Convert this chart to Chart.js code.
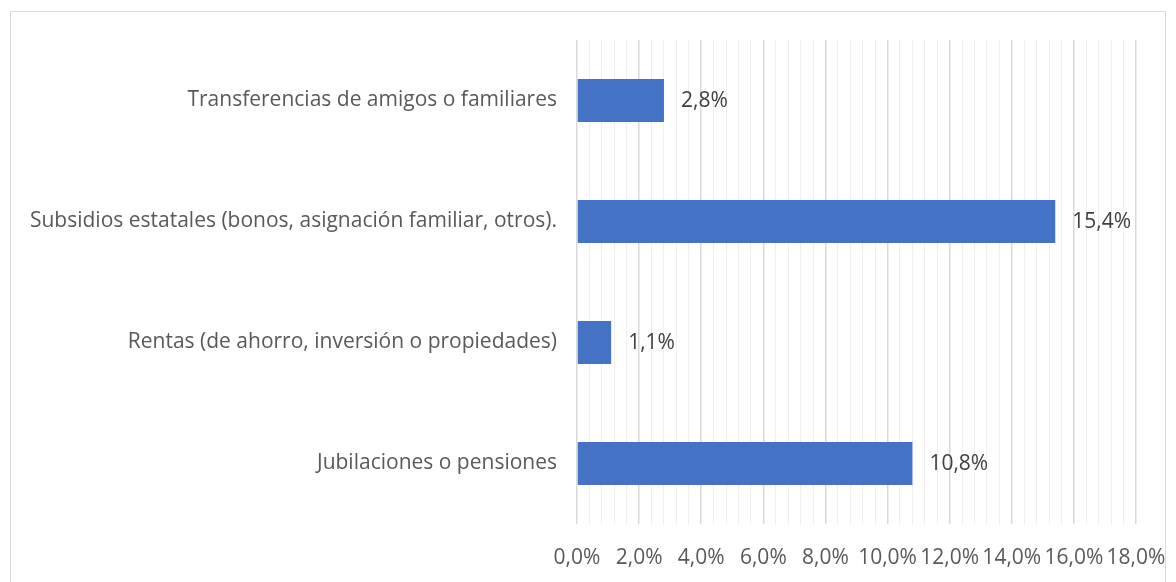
<!DOCTYPE html>
<html>
<head>
<meta charset="utf-8">
<script src="https://cdn.jsdelivr.net/npm/chart.js@4/dist/chart.umd.min.js"></script>
<style>
  html, body { margin: 0; padding: 0; background: #fff; }
  #wrap { position: relative; width: 1176px; height: 582px; }
  #frame { position: absolute; left: 10px; top: 11px; width: 1156px; height: 600px; border: 1px solid #d9d9d9; box-sizing: border-box; }
  canvas { position: absolute; left: 0; top: 0; }
</style>
</head>
<body>
<div id="wrap">
  <div id="frame"></div>
  <canvas id="c" width="1176" height="582"></canvas>
</div>
<script>
const categories = [
  "Transferencias de amigos o familiares",
  "Subsidios estatales (bonos, asignación familiar, otros).",
  "Rentas (de ahorro, inversión o propiedades)",
  "Jubilaciones o pensiones"
];
const values = [2.8, 15.4, 1.1, 10.8];
const axisMin = 0;
const axisMax = 18;
const minorStep = 0.4;
const majorStep = 2;

const FONT = "'Open Sans', 'Noto Sans', sans-serif";
const FSIZE = 21;

function fmt(v, d) { return v.toFixed(d).replace('.', ',') + '%'; }
function isMajor(v) { const r = v / majorStep; return Math.abs(r - Math.round(r)) < 1e-6; }

const valueLabels = {
  id: 'valueLabels',
  afterDatasetsDraw(chart) {
    const ctx = chart.ctx;
    const meta = chart.getDatasetMeta(0);
    ctx.save();
    ctx.font = FSIZE + "px " + FONT;
    ctx.fillStyle = '#404040';
    ctx.textAlign = 'left';
    ctx.textBaseline = 'middle';
    meta.data.forEach((bar, i) => {
      ctx.fillText(fmt(values[i], 1), bar.x + 17, bar.y + 1);
    });
    ctx.restore();
  }
};

new Chart(document.getElementById('c'), {
  type: 'bar',
  data: {
    labels: categories,
    datasets: [{
      data: values,
      backgroundColor: '#4472C4',
      borderWidth: 0,
      categoryPercentage: 1,
      barPercentage: 0.355
    }]
  },
  options: {
    indexAxis: 'y',
    responsive: false,
    animation: false,
    devicePixelRatio: 1,
    layout: { padding: { top: 40, right: 40, left: 0, bottom: 0 } },
    plugins: { legend: { display: false }, tooltip: { enabled: false } },
    scales: {
      x: {
        min: axisMin, max: axisMax,
        border: { display: false },
        grid: {
          drawTicks: false,
          color: ctx => isMajor(ctx.tick.value) ? '#d9d9d9' : '#efefef',
          lineWidth: ctx => isMajor(ctx.tick.value) ? 1.5 : 1
        },
        ticks: {
          stepSize: minorStep,
          autoSkip: false,
          maxRotation: 0,
          padding: 21,
          color: '#595959',
          font: { family: FONT, size: FSIZE },
          callback: v => isMajor(v) ? fmt(v, 1) : ''
        },
        afterFit: s => { s.height = 58; s.paddingLeft = 0; s.paddingRight = 0; }
      },
      y: {
        border: { display: false },
        grid: { display: false, drawTicks: false },
        ticks: {
          padding: 20,
          color: '#595959',
          font: { family: FONT, size: FSIZE }
        },
        afterFit: s => { s.width = 577; }
      }
    }
  },
  plugins: [valueLabels]
});
</script>
</body>
</html>
